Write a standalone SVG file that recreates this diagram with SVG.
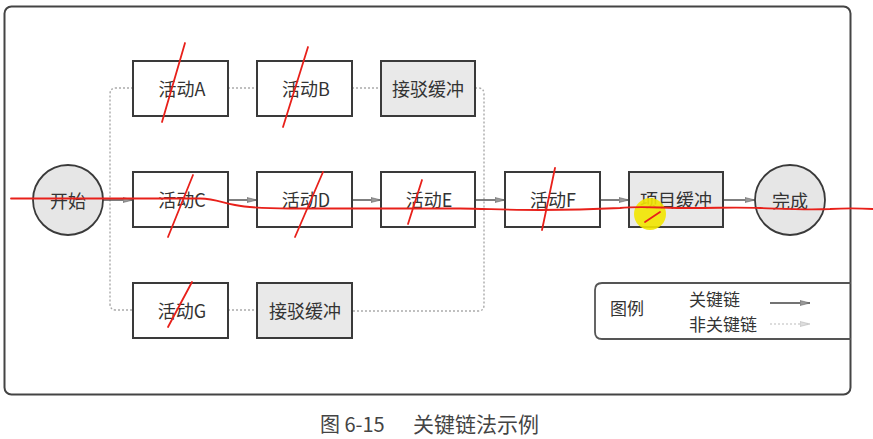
<svg xmlns="http://www.w3.org/2000/svg" width="873" height="439" viewBox="0 0 873 439">
  <style>
    .box { fill: #ffffff; stroke: #3a3a3a; stroke-width: 2; }
    .buf { fill: #e9e9e9; stroke: #3a3a3a; stroke-width: 2; }
    .circ { fill: #e6e6e6; stroke: #3a3a3a; stroke-width: 1.8; }
    .lbl { font-family: "Noto Sans CJK SC", "Liberation Serif", serif; font-size: 18px; fill: #333; text-anchor: middle; dominant-baseline: central; }
    .leg { font-family: "Noto Sans CJK SC", "Liberation Serif", serif; font-size: 17px; fill: #333; dominant-baseline: central; }
    .cap { font-family: "Noto Sans CJK SC", "Liberation Serif", serif; fill: #444; dominant-baseline: central; }
    .crit { stroke: #555; stroke-width: 1.5; fill: none; marker-end: url(#arr); }
    .non { stroke: #aaa; stroke-width: 1.4; fill: none; stroke-dasharray: 2 2; }
    .red { stroke: #e8201a; stroke-width: 1.8; fill: none; stroke-linecap: round; }
  </style>
  <defs>
    <marker id="arr" viewBox="0 0 10 6" refX="10" refY="3" markerWidth="10" markerHeight="6" markerUnits="userSpaceOnUse" orient="auto">
      <path d="M0,0.5 L10,3 L0,5.5 Z" fill="#999" stroke="#666" stroke-width="0.6"/>
    </marker>
    <marker id="arrl" viewBox="0 0 10 6" refX="10" refY="3" markerWidth="10" markerHeight="6" markerUnits="userSpaceOnUse" orient="auto">
      <path d="M0,0.5 L10,3 L0,5.5 Z" fill="#ddd" stroke="#bbb" stroke-width="0.6"/>
    </marker>
  </defs>

  <rect width="873" height="439" fill="#ffffff"/>

  <!-- outer frame -->
  <rect x="4.5" y="6.5" width="846" height="388" rx="7" fill="none" stroke="#444" stroke-width="2"/>

  <!-- connectors -->
  <g id="connectors">
    <!-- non-critical chains -->
    <path class="non" d="M133,88 H116 Q110,88 110,94 V304 Q110,310 116,310 H133"/>
    <path class="non" d="M228,88 H257"/>
    <path class="non" d="M352,88 H381"/>
    <path class="non" d="M475,88 H478 Q484,88 484,94 V305 Q484,311 478,311 H352"/>
    <path class="non" d="M228,310 H257"/>
    <!-- critical chain -->
    <path class="crit" d="M103,200 H133"/>
    <path class="crit" d="M228,200 H257"/>
    <path class="crit" d="M352,200 H381"/>
    <path class="crit" d="M475,200 H505"/>
    <path class="crit" d="M600,200 H629"/>
    <path class="crit" d="M723,200 H755"/>
  </g>

  <!-- nodes -->
  <g id="start"><circle class="circ" cx="68" cy="200" r="35"/><text class="lbl" x="68" y="200">开始</text></g>
  <g id="actA"><rect class="box" x="133" y="61" width="95" height="55"/><text class="lbl" x="182" y="88">活动A</text></g>
  <g id="actB"><rect class="box" x="257" y="61" width="95" height="55"/><text class="lbl" x="306" y="88">活动B</text></g>
  <g id="feed1"><rect class="buf" x="381" y="61" width="94" height="55"/><text class="lbl" x="428" y="88">接驳缓冲</text></g>
  <g id="actC"><rect class="box" x="133" y="172" width="95" height="55"/><text class="lbl" x="182" y="199">活动C</text></g>
  <g id="actD"><rect class="box" x="257" y="172" width="95" height="55"/><text class="lbl" x="306" y="199">活动D</text></g>
  <g id="actE"><rect class="box" x="381" y="172" width="94" height="55"/><text class="lbl" x="429" y="199">活动E</text></g>
  <g id="actF"><rect class="box" x="505" y="172" width="95" height="55"/><text class="lbl" x="553" y="199">活动F</text></g>
  <g id="projbuf"><rect class="buf" x="629" y="172" width="94" height="55"/><text class="lbl" x="676" y="199">项目缓冲</text></g>
  <g id="finish"><circle class="circ" cx="790" cy="200" r="35"/><text class="lbl" x="790" y="200">完成</text></g>
  <g id="actG"><rect class="box" x="133" y="283" width="95" height="55"/><text class="lbl" x="182" y="310">活动G</text></g>
  <g id="feed2"><rect class="buf" x="257" y="283" width="95" height="55"/><text class="lbl" x="305" y="310">接驳缓冲</text></g>

  <!-- legend -->
  <g id="legend">
    <path d="M851,283 H602 Q595,283 595,290 V332 Q595,339 602,339 H851" fill="none" stroke="#555" stroke-width="1.8"/>
    <text class="leg" x="610" y="307" font-size="18">图例</text>
    <text class="leg" x="689" y="298">关键链</text>
    <text class="leg" x="689" y="323">非关键链</text>
    <path d="M770,303 H810" stroke="#444" stroke-width="1.4" fill="none" marker-end="url(#arr)"/>
    <path d="M770,324 H810" stroke="#bbb" stroke-width="1.2" stroke-dasharray="2 2" fill="none" marker-end="url(#arrl)"/>
  </g>

  <!-- caption -->
  <text class="cap" x="320" y="423" font-size="20">图 6-15</text>
  <text class="cap" x="413" y="423" font-size="21">关键链法示例</text>

  <!-- hand-drawn markup -->
  <g id="markup">
    <circle cx="650" cy="214" r="16" fill="#f2e600" opacity="0.9"/>
    <path class="red" d="M11,198.5 L200,198.5 C215,199 220,202 235,205 C250,208 265,208.5 290,208.5 L460,208.5 C490,209 510,210 540,210 C575,210 590,209.5 620,208 C640,206 660,208 690,208 C720,208 735,207 760,208 C790,209 805,210 830,209 C845,208 858,208 873,209"/>
    <path class="red" d="M645,222 L660,212"/>
    <path class="red" d="M185,43 L162,122"/>
    <path class="red" d="M308,47 L283,127"/>
    <path class="red" d="M193,175 L168,237"/>
    <path class="red" d="M323,172 L295,237"/>
    <path class="red" d="M422,180 L408,224"/>
    <path class="red" d="M555,168 L542,230"/>
    <path class="red" d="M192,282 L168,327"/>
  </g>
</svg>
